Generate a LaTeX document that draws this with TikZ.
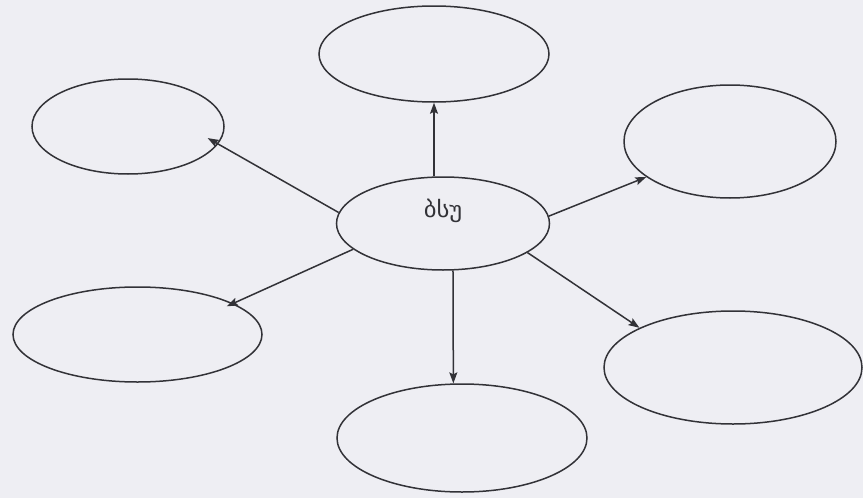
\documentclass[tikz,border=0pt]{standalone}
\usepackage{fontspec}
\newfontfamily\geofont[Script=Georgian]{DejaVu Sans}
\usetikzlibrary{shapes.geometric,arrows.meta}
\definecolor{bgpaper}{RGB}{238,238,243}
\definecolor{inkgray}{RGB}{50,50,55}
\tikzset{
  oval/.style={ellipse, draw=inkgray, line width=1.5pt, inner sep=0pt},
  arr/.style={draw=inkgray, line width=1.5pt, -{Stealth[length=11pt,width=8pt,inset=2pt]}},
}
\begin{document}
\begin{tikzpicture}[x=1pt,y=-1pt]
\fill[bgpaper] (0,0) rectangle (863,498);
\useasboundingbox (0,0) rectangle (863,498);
% nodes
\node[oval, minimum width=213pt, minimum height=93pt] (c) at (443,223.5) {};
\node[font=\geofont\fontsize{22}{24}\selectfont, text=inkgray, inner sep=0pt] (lbl) at (443,211) {\scalebox{1.12}[1]{ბსუ}};
\node[oval, minimum width=230pt, minimum height=96pt] (t) at (434,54) {};
\node[oval, minimum width=192pt, minimum height=95pt] (ul) at (128,126.5) {};
\node[oval, minimum width=212pt, minimum height=113pt] (ur) at (730,141.5) {};
\node[oval, minimum width=249pt, minimum height=95pt] (ll) at (137.5,334.5) {};
\node[oval, minimum width=250pt, minimum height=108pt] (b) at (462,438) {};
\node[oval, minimum width=258pt, minimum height=113pt] (lr) at (733,367.5) {};
% connectors
\draw[arr] (c.north -| t.south) -- (t.south);
\draw[arr, shorten >=-12pt] (c.174) -- (ul.-11);
\draw[arr] (c.4.6) -- (ur.203);
\draw[arr, shorten >=-7pt] (c.196) -- (ll.18);
\draw[arr] (c.-78) -- (b.99.6);
\draw[arr] (c.-19) -- (lr.157);
\end{tikzpicture}
\end{document}
